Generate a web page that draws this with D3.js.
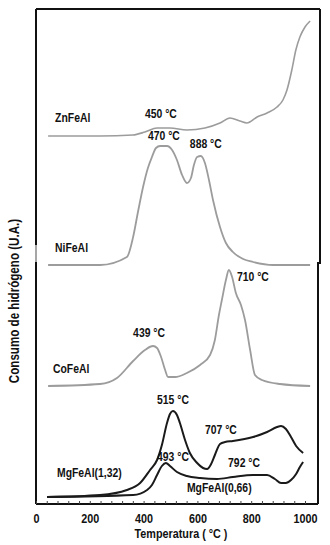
<!DOCTYPE html>
<html>
<head>
<meta charset="utf-8">
<script src="https://cdn.jsdelivr.net/npm/d3@7"></script>
<style>
  body { margin: 0; background: #fff; }
  svg text { font-family: "Liberation Sans", Arial, sans-serif; font-weight: bold; fill: #111; }
</style>
</head>
<body>
<svg id="chart" width="330" height="545"></svg>
<script>
// TPR profiles, temperature (°C) vs hydrogen consumption (a.u., offset curves)
const znTemp = [45, 238, 360, 405, 450, 498, 561, 628, 684, 721, 758, 784, 822, 859, 896, 918, 933, 951, 966, 981, 1000, 1019];
const znVal  = [368, 368, 369, 372, 376, 376, 374, 376, 381, 386, 383, 381, 387, 391, 397, 404, 414, 434, 454, 467, 477, 483];

const niTemp = [45, 238, 338, 361, 379, 398, 416, 431, 446, 461, 487, 506, 524, 543, 561, 576, 587, 599, 613, 628, 643, 658, 684, 706, 732, 770, 807, 881, 1019];
const niVal  = [239, 239, 247, 267, 292, 317, 336, 347, 356, 358, 358, 354, 344, 329, 321, 326, 339, 347, 348, 341, 324, 304, 277, 261, 252, 245, 242, 239, 239];

const coTemp = [45, 238, 301, 361, 405, 435, 450, 465, 480, 491, 517, 561, 610, 647, 665, 680, 691, 706, 717, 729, 743, 762, 777, 796, 814, 840, 907, 1019];
const coVal  = [118, 120, 126, 143, 154, 158, 156, 147, 134, 127, 127, 131, 139, 149, 164, 189, 204, 224, 234, 227, 211, 199, 184, 154, 129, 124, 120, 118];

const mg132Temp = [41, 238, 338, 387, 424, 450, 468, 487, 498, 509, 524, 535, 554, 572, 599, 621, 636, 651, 665, 684, 703, 732, 807, 859, 896, 911, 929, 948, 967, 993];
const mg132Val  = [7, 9, 14, 21, 34, 44, 59, 81, 90, 93, 89, 81, 64, 51, 41, 36, 35, 40, 49, 60, 62, 63, 67, 72, 77, 78, 75, 67, 58, 51];

const mg066Temp = [41, 361, 413, 431, 450, 468, 483, 498, 524, 561, 610, 673, 732, 807, 859, 888, 911, 929, 948, 967, 981, 993];
const mg066Val  = [7, 9, 14, 19, 29, 38, 41, 38, 32, 28, 26, 25, 27, 29, 29, 25, 21, 21, 24, 30, 37, 42];

const tickLabels = [0, 200, 400, 600, 800, 1000];

const series = [
  { name: "ZnFeAl", t: znTemp, v: znVal, color: "#9c9c9c", w: 1.6 },
  { name: "NiFeAl", t: niTemp, v: niVal, color: "#9c9c9c", w: 1.8 },
  { name: "CoFeAl", t: coTemp, v: coVal, color: "#9c9c9c", w: 1.8 },
  { name: "MgFeAl(1,32)", t: mg132Temp, v: mg132Val, color: "#1a1a1a", w: 2 },
  { name: "MgFeAl(0,66)", t: mg066Temp, v: mg066Val, color: "#1a1a1a", w: 2 }
];

// text labels placed in data coordinates
const notes = [
  { text: "ZnFeAl", t: 71, v: 382 },
  { text: "450 °C", t: 405, v: 386 },
  { text: "470 °C", t: 416, v: 364 },
  { text: "888 °C", t: 572, v: 356 },
  { text: "NiFeAl", t: 71, v: 252 },
  { text: "710 °C", t: 747, v: 223 },
  { text: "439 °C", t: 361, v: 167 },
  { text: "CoFeAl", t: 63, v: 131 },
  { text: "515 °C", t: 450, v: 100 },
  { text: "707 °C", t: 628, v: 70 },
  { text: "493 °C", t: 450, v: 43 },
  { text: "792 °C", t: 714, v: 37 },
  { text: "MgFeAl(1,32)", t: 78, v: 27 },
  { text: "MgFeAl(0,66)", t: 561, v: 12 }
];

const narrow = 0.8; // squeeze Liberation Sans to look like Arial Narrow
const margin = { top: 9, right: 10, bottom: 41, left: 36 };
const width = 330, height = 545;
const svg = d3.select("#chart");

const x = d3.scaleLinear().domain([0, 1000]).range([margin.left, 305]);
const y = d3.scaleLinear().domain([0, 495]).range([height - margin.bottom, margin.top]);

// frame (left border has a faint gap, right border a small jog, as in the scan)
const frame = svg.append("g").attr("stroke", "#111").attr("stroke-width", 2).attr("fill", "none");
frame.append("line").attr("x1", x(0)).attr("x2", 320).attr("y1", y(495)).attr("y2", y(495));
frame.append("line").attr("x1", x(0)).attr("x2", x(0)).attr("y1", y(495)).attr("y2", 245);
frame.append("line").attr("x1", x(0)).attr("x2", x(0)).attr("y1", 245).attr("y2", 262).attr("stroke", "#888").attr("stroke-width", 1.5);
frame.append("line").attr("x1", x(0)).attr("x2", x(0)).attr("y1", 262).attr("y2", y(0));
frame.append("line").attr("x1", 320).attr("x2", 320).attr("y1", y(495)).attr("y2", 264);
frame.append("line").attr("x1", 318).attr("x2", 318).attr("y1", 262).attr("y2", y(0));

// x axis
const xAxis = svg.append("g").attr("transform", `translate(0,${y(0)})`);
xAxis.call(d3.axisBottom(x).tickValues(d3.range(0, 1001, 40)).tickSize(-3).tickFormat(""));
xAxis.select(".domain").attr("stroke", "#111").attr("stroke-width", 2).attr("d", `M${x(0)},0H318`);
xAxis.selectAll(".tick line").attr("stroke", "#444").attr("stroke-width", 1);

const xLabels = svg.append("g").attr("transform", `translate(0,${y(0)})`)
  .call(d3.axisBottom(x).tickValues(tickLabels).tickFormat(d3.format("d")).tickSize(0).tickPadding(9));
xLabels.select(".domain").remove();
xLabels.attr("font-family", null).attr("font-size", null);
xLabels.selectAll("text")
  .attr("font-size", 13.5)
  .attr("transform", `scale(${narrow},1)`);

// curves
const line = d3.line()
  .x(d => x(d[0]))
  .y(d => y(d[1]))
  .curve(d3.curveMonotoneX);

svg.append("g").selectAll("path")
  .data(series)
  .join("path")
  .attr("d", s => line(s.t.map((t, i) => [t, s.v[i]])))
  .attr("fill", "none")
  .attr("stroke", s => s.color)
  .attr("stroke-width", s => s.w)
  .attr("stroke-linejoin", "round");

// annotations
svg.append("g").selectAll("text")
  .data(notes)
  .join("text")
  .attr("transform", d => `translate(${x(d.t)},${y(d.v)}) scale(${narrow},1)`)
  .attr("font-size", 13)
  .text(d => d.text);

// axis titles
svg.append("text")
  .attr("transform", `translate(${(x(0) + 320) / 2 + 3},538) scale(${narrow},1)`)
  .attr("text-anchor", "middle")
  .attr("font-size", 13.5)
  .text("Temperatura ( °C )");

svg.append("text")
  .attr("transform", `translate(19,301) rotate(-90) scale(${narrow},1)`)
  .attr("text-anchor", "middle")
  .attr("font-size", 14.5)
  .text("Consumo de hidrógeno (U.A.)");
</script>
</body>
</html>
